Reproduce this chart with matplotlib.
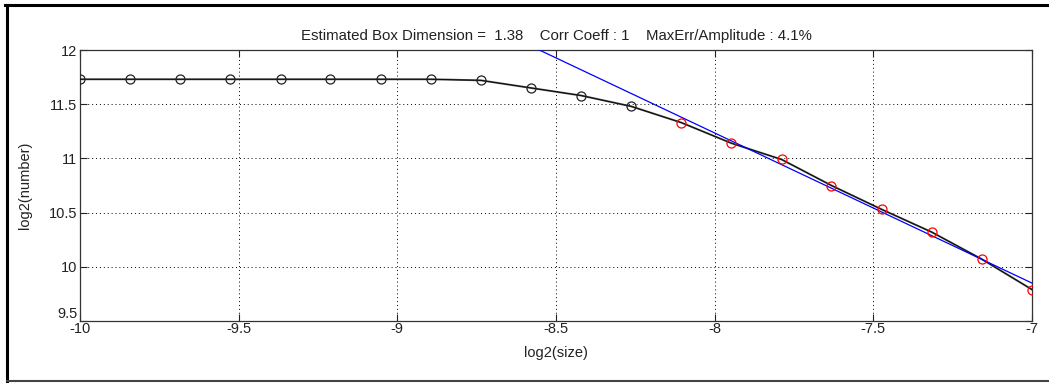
import numpy as np
import matplotlib
matplotlib.use('Agg')
import matplotlib.pyplot as plt
from matplotlib.lines import Line2D

# log2 box size and log2 box count
log_size = [-10.0, -9.842, -9.684, -9.526, -9.368, -9.211, -9.053, -8.895,
            -8.737, -8.579, -8.421, -8.263, -8.105, -7.947, -7.789, -7.632,
            -7.474, -7.316, -7.158, -7.0]
log_number = [11.73, 11.73, 11.73, 11.73, 11.73, 11.73, 11.73, 11.73,
              11.72, 11.65, 11.58, 11.48, 11.33, 11.14, 10.99, 10.75,
              10.53, 10.32, 10.07, 9.79]
n_fit = 8  # last points used for the fit (red)

titulo = 'Estimated Box Dimension =  1.38    Corr Coeff : 1    MaxErr/Amplitude : 4.1%'

plt.rcParams['font.family'] = ['Liberation Sans', 'DejaVu Sans']
plt.rcParams['font.size'] = 10.5

fig = plt.figure(figsize=(10.49, 3.83), dpi=100)
ax = fig.add_axes([80 / 1049, 1 - 321 / 383, (1032 - 80) / 1049, (321 - 50) / 383])

x = np.array(log_size)
y = np.array(log_number)

# curva de datos
ax.plot(x, y, color='#555555', lw=1.4, zorder=2)
ax.plot(x, y, color='black', lw=0.6, zorder=3)
ax.plot(x[:-n_fit], y[:-n_fit], 'o', mfc='none', mec='#222222', ms=6.5, mew=0.9, zorder=4)
ax.plot(x[-n_fit:], y[-n_fit:], 'o', mfc='none', mec='red', ms=6.5, mew=0.9, zorder=4)

# recta de ajuste
pend, orig = np.polyfit(x[-n_fit:], y[-n_fit:], 1)
xs = np.array([-10.0, -7.0])
ax.plot(xs, pend * xs + orig, color='blue', lw=0.9, zorder=3)

ax.set_xlim(-10, -7)
ax.set_ylim(9.5, 12)
ax.set_xticks([-10, -9.5, -9, -8.5, -8, -7.5, -7])
ax.set_xticklabels(['-10', '-9.5', '-9', '-8.5', '-8', '-7.5', '-7'])
ax.set_yticks([9.5, 10, 10.5, 11, 11.5, 12])
ax.set_yticklabels(['9.5', '10', '10.5', '11', '11.5', '12'])
ax.get_yticklabels()[0].set_verticalalignment('bottom')
ax.grid(True, color='black', linestyle=(0, (1, 3)), lw=0.7)
ax.tick_params(direction='in', length=5, width=0.8, top=True, right=True,
               pad=2, colors='#222222', labelcolor='#222222')
ax.tick_params(axis='x', pad=1)
for s in ax.spines.values():
    s.set_color('#333333')
    s.set_linewidth(0.9)

ax.set_xlabel('log2(size)', labelpad=7, color='#222222', fontsize=10.5)
ax.set_ylabel('log2(number)', labelpad=12, color='#222222', fontsize=10.5)
ax.set_title(titulo, pad=7, color='#222222', fontsize=10.8)

# marco de la ventana
fig.add_artist(Line2D([5 / 1049, 1], [1 - 5 / 383] * 2, color='black', lw=2.2))
fig.add_artist(Line2D([7 / 1049] * 2, [1 - 5 / 383, 1 - 381 / 383], color='black', lw=2.2))
fig.add_artist(Line2D([7 / 1049, 1], [1 - 381 / 383] * 2, color='#444444', lw=1.5))

fig.savefig('out.png', dpi=100)
